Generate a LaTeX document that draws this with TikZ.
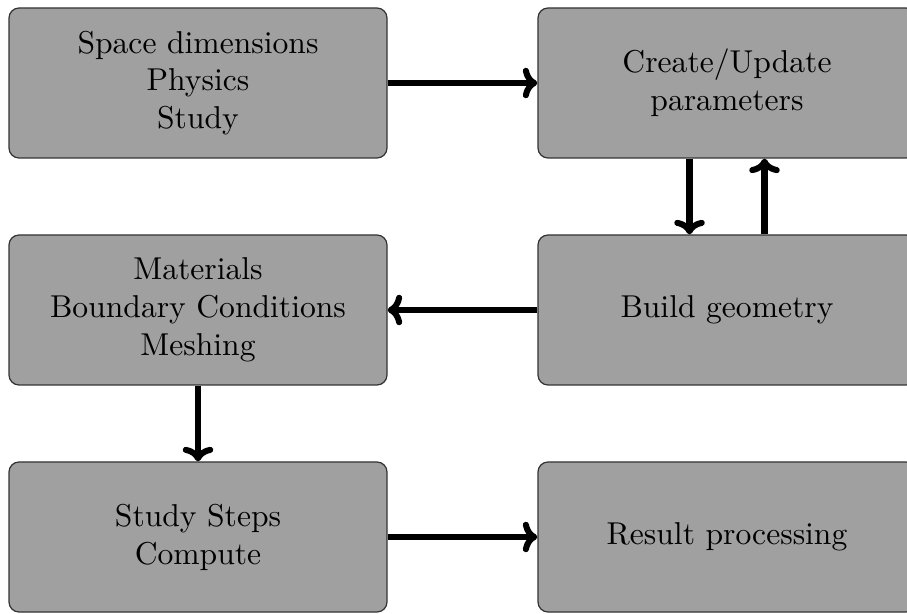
\documentclass[tikz,border=0pt]{standalone}
\usetikzlibrary{arrows.meta}
\definecolor{boxgray}{RGB}{160,160,160}
\begin{document}
\begin{tikzpicture}[x=0.33pt,y=-0.33pt,
  stepbox/.style={draw=black!80, fill=boxgray, rounded corners=3.3pt, line width=0.4pt,
    minimum width=378*0.33pt, minimum height=150*0.33pt, align=center, inner sep=0pt,
    font=\fontsize{10.43}{12.5}\selectfont},
  conn/.style={-{To[scale=0.8]}, line width=2pt}]
\clip (0,0) rectangle (907,614);
\node[stepbox] (a) at (198,83) {Space dimensions\\Physics\\Study};
\node[stepbox] (b) at (727,83) {Create/Update\\parameters};
\node[stepbox] (c) at (198,310) {Materials\\Boundary Conditions\\Meshing};
\node[stepbox] (d) at (727,310) {Build geometry};
\node[stepbox] (e) at (198,537) {Study Steps\\Compute};
\node[stepbox] (f) at (727,537) {Result processing};
\draw[conn] (a.east) -- (b.west);
\draw[conn] ([xshift=-37.5*0.33pt]b.south) -- ([xshift=-37.5*0.33pt]d.north);
\draw[conn] ([xshift=37.5*0.33pt]d.north) -- ([xshift=37.5*0.33pt]b.south);
\draw[conn] (d.west) -- (c.east);
\draw[conn] (c.south) -- (e.north);
\draw[conn] (e.east) -- (f.west);
\end{tikzpicture}
\end{document}
